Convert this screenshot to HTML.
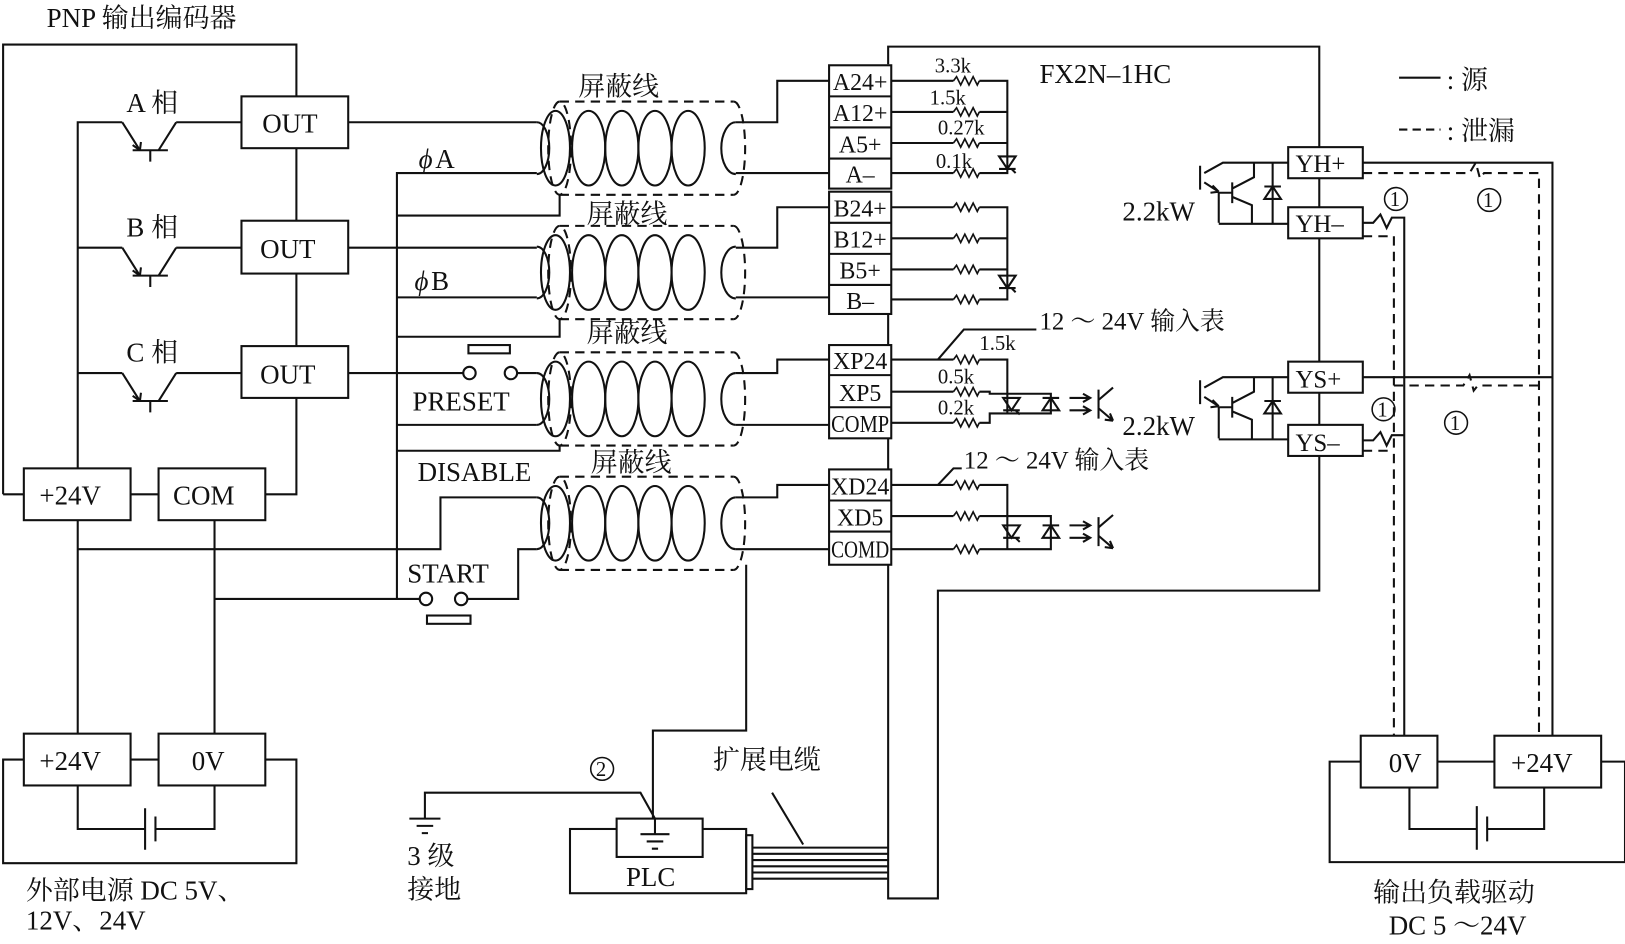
<!DOCTYPE html>
<html><head><meta charset="utf-8"><style>
html,body{margin:0;padding:0;background:#fff;}
svg{display:block}
text{font-family:"Liberation Serif","Noto Serif CJK SC",serif;font-size:26px;fill:#111}
.s{font-size:20px}
.t{font-size:23px;text-anchor:middle}
</style></head><body>
<svg width="1625" height="944" viewBox="0 0 1568 911" preserveAspectRatio="none" xmlns="http://www.w3.org/2000/svg">
<defs>
<g id="cable" fill="none" stroke="#111" stroke-width="2">
  <path d="M540,-45 H708 M540,45 H708" stroke-dasharray="9,6"/>
  <path d="M708,-45 A11,45 0 0 1 708,45" stroke-dasharray="9,6"/>
  <ellipse cx="540" cy="0" rx="11" ry="45" stroke-dasharray="9,6"/>
  <path d="M518,-25 A12,25 0 0 1 518,25"/>
  <ellipse cx="536" cy="0" rx="14" ry="36"/>
  <ellipse cx="568" cy="0" rx="16" ry="36"/>
  <ellipse cx="600" cy="0" rx="16" ry="36"/>
  <ellipse cx="632" cy="0" rx="16" ry="36"/>
  <ellipse cx="664" cy="0" rx="16" ry="36"/>
  <path d="M710,-25 A14,25 0 0 0 710,25"/>
</g>
<g id="tr" fill="none" stroke="#111" stroke-width="2">
  <path d="M0,0 L17,27 M52,0 L35,27 M10,27 H44 M27,27 V38"/>
  <path d="M17,27 l-7,-5 M17,27 l1,-8" />
</g>
<path id="res" d="M0,0 l3,-4 l4,8 l4,-8 l4,8 l4,-8 l4,8 l2,-4" fill="none" stroke="#111" stroke-width="1.6"/>
<g id="dd" fill="none" stroke="#111" stroke-width="2"><path d="M-8,-6 H8 L0,6 Z M-8,6 H8 M4,6 l4,4"/></g>
<g id="du" fill="none" stroke="#111" stroke-width="2"><path d="M-8,6 H8 L0,-6 Z M-8,-6 H8"/></g>
<g id="opto" fill="none" stroke="#111" stroke-width="2">
  <path d="M0,-6 H20 M0,6 H20 M13,-10 L20,-6 L13,-2 M13,2 L20,6 L13,10"/>
  <path d="M28,-14 V14 M28,-4 L42,-16 M28,4 L42,16 M42,16 l-8,-1 M42,16 l-3,-7"/>
</g>
</defs>

<g fill="none" stroke="#111" stroke-width="2">
<path d="M3,477 V43 H286 V93 M286,143 V213 M286,264 V334 M286,384 V477 H256 M126,477 H153 M3,477 H23"/>
<rect x="233" y="93" width="103" height="50"/><rect x="233" y="213" width="103" height="51"/><rect x="233" y="334" width="103" height="50"/>
<rect x="23" y="452" width="103" height="50"/><rect x="153" y="452" width="103" height="50"/>
<path d="M75,452 V118 H118 M170,118 H233 M75,239 H118 M170,239 H233 M75,360 H118 M170,360 H233"/>
</g>
<use href="#tr" x="118" y="118"/><use href="#tr" x="118" y="239"/><use href="#tr" x="118" y="360"/>

<g fill="none" stroke="#111" stroke-width="2">
<path d="M336,118 H518 M383,578 V167 H518 M383,208 H540 V188 M336,239 H518 M383,287 H518 M383,325 H540 V307"/>
<path d="M336,360 H447 M499,360 H518 M383,410 H518 M383,435 H540 V430"/>
<circle cx="453" cy="360" r="6"/><circle cx="493" cy="360" r="6"/><rect x="452" y="333" width="40" height="8"/>
<path d="M75,502 V708 M207,502 V708 M75,530 H425 V480 H518 M207,578 H405 M451,578 H500 V530 H518"/>
<circle cx="411" cy="578" r="6"/><circle cx="445" cy="578" r="6"/><rect x="412" y="594" width="42" height="8"/>
<path d="M710,118 H750 V78 H800 M710,167 H800 M710,239 H750 V200 H800 M710,287 H800 M710,360 H750 V347 H800 M710,410 H800 M710,480 H750 V468 H800 M710,530 H800"/>
<path d="M720,545 V705 H630 V793"/>
</g>
<use href="#cable" y="143"/><use href="#cable" y="263"/><use href="#cable" y="385"/><use href="#cable" y="505"/>

<g fill="none" stroke="#111" stroke-width="2">
<rect x="800" y="63" width="60" height="119"/><path d="M800,93 H860 M800,123 H860 M800,153 H860"/>
<rect x="800" y="185" width="60" height="118"/><path d="M800,215 H860 M800,245 H860 M800,275 H860"/>
<rect x="800" y="333" width="60" height="90"/><path d="M800,362 H860 M800,393 H860"/>
<rect x="800" y="453" width="60" height="92"/><path d="M800,483 H860 M800,513 H860"/>
<path d="M857,62 V45 H1273 V570 H905 V867 H857 V545 M857,303 V333 M857,423 V453"/>
<path d="M860,78 H920 M945,78 H972 V167 H945 M920,167 H860 M860,108 H920 M945,108 H972 M860,138 H920 M945,138 H972"/>
<path d="M860,200 H920 M945,200 H972 V289 H945 M920,289 H860 M860,230 H920 M945,230 H972 M860,260 H920 M945,260 H972"/>
<path d="M860,347 H920 M945,347 H972 V380 M860,378 H920 M945,378 H955 V380 H1014 V399 H972 V380 M860,408 H920 M945,408 H955 V399 H972"/>
<path d="M905,347 L930,318 H1000"/>
<path d="M860,468 H920 M945,468 H972 V530 H945 M920,530 H860 M860,498 H920 M945,498 H972 M972,498 H1014 V530 H972"/>
<path d="M905,468 L920,452 H928"/>
</g>
<use href="#res" x="920" y="78"/><use href="#res" x="920" y="108"/><use href="#res" x="920" y="138"/><use href="#res" x="920" y="167"/>
<use href="#res" x="920" y="200"/><use href="#res" x="920" y="230"/><use href="#res" x="920" y="260"/><use href="#res" x="920" y="289"/>
<use href="#res" x="920" y="347"/><use href="#res" x="920" y="378"/><use href="#res" x="920" y="408"/>
<use href="#res" x="920" y="468"/><use href="#res" x="920" y="498"/><use href="#res" x="920" y="530"/>
<use href="#dd" x="972" y="157"/><use href="#dd" x="972" y="272"/>
<use href="#dd" x="976" y="390"/><use href="#du" x="1014" y="390"/><use href="#opto" x="1032" y="390"/>
<use href="#dd" x="976" y="513"/><use href="#du" x="1014" y="513"/><use href="#opto" x="1032" y="513"/>

<g fill="none" stroke="#111" stroke-width="2">
<rect x="1243" y="142" width="72" height="30" fill="#fff"/><rect x="1243" y="200" width="72" height="30" fill="#fff"/>
<rect x="1243" y="349" width="72" height="30" fill="#fff"/><rect x="1243" y="410" width="72" height="30" fill="#fff"/>
<path d="M1243,157 H1180 L1162,167 M1158,160 V183 M1162,176 L1176,185 M1176,185 L1170,179 M1176,185 L1168,186 M1176,185 V215 M1176,216 H1243 M1189,176 V196 M1189,186 H1176 M1189,182 L1210,171 V157 M1189,190 L1208,198 V216 M1228,157 V216"/>
<path d="M1220,192 H1236 L1228,180 Z M1220,180 H1236"/>
<path d="M1243,364 H1180 L1162,374 M1158,367 V390 M1162,383 L1176,392 M1176,392 L1170,386 M1176,392 L1168,393 M1176,392 V423 M1176,424 H1243 M1189,383 V403 M1189,393 H1176 M1189,389 L1210,378 V364 M1189,397 L1208,405 V424 M1228,364 V424"/>
<path d="M1220,399 H1236 L1228,387 Z M1220,387 H1236"/>
<path d="M1315,157 H1498 V710 M1315,364 H1498"/>
<path d="M1315,215 H1325 L1332,207 L1338,220 L1343,210 H1355 V710 M1315,425 H1325 L1332,417 L1338,430 L1343,420 H1355"/>
<path d="M1315,167 H1418 L1424,157 L1428,172 L1432,167 H1485 V710 M1345,372 H1412 L1418,362 L1422,377 L1426,372 H1485 M1315,228 H1345 V710 M1315,435 H1345" stroke-dasharray="9,6"/>
<path d="M1350,75 H1390"/><path d="M1350,125 H1390" stroke-dasharray="8,5"/>
<rect x="1313" y="710" width="74" height="50"/><rect x="1442" y="710" width="103" height="50"/>
<path d="M1387,735 H1442 M1313,735 H1283 V832 H1568 V735 H1545 M1360,760 V800 H1425 M1490,760 V800 H1435 M1425,778 V820 M1435,788 V812"/>
<rect x="23" y="708" width="103" height="50"/><rect x="153" y="708" width="103" height="50"/>
<path d="M126,733 H153 M23,733 H3 V833 H286 V733 H256 M75,758 V800 H140 M207,758 V800 H150 M140,780 V820 M150,788 V812"/>
<path d="M410,790 V765 H618 L632,790 M395,790 H425 M402,797 H418 M407,804 H413"/>
<rect x="550" y="800" width="170" height="62" fill="#fff"/><rect x="595" y="790" width="83" height="37" fill="#fff"/>
<path d="M632,790 V805 M618,805 H646 M624,812 H640 M629,819 H635"/>
<rect x="720" y="806" width="6" height="52"/>
<path d="M726,818 H857 M726,824 H857 M726,830 H857 M726,836 H857 M726,842 H857 M726,848 H857 M745,765 L775,815"/>
</g>
<g fill="none" stroke="#111" stroke-width="1.5">
<circle cx="1347" cy="192" r="11"/><circle cx="1437" cy="193" r="11"/><circle cx="1335" cy="395" r="11"/><circle cx="1405" cy="408" r="11"/><circle cx="581" cy="742" r="11"/>
</g>

<text x="45" y="26">PNP 输出编码器</text>
<text x="122" y="108">A 相</text><text x="122" y="228">B 相</text><text x="122" y="349">C 相</text>
<text x="253" y="128">OUT</text><text x="251" y="249">OUT</text><text x="251" y="370">OUT</text>
<text x="38" y="487">+24V</text><text x="167" y="487">COM</text>
<text x="38" y="743">+24V</text><text x="185" y="743">0V</text>
<text x="558" y="92">屏蔽线</text><text x="566" y="215">屏蔽线</text><text x="566" y="330">屏蔽线</text><text x="570" y="455">屏蔽线</text>
<text x="404" y="162" font-style="italic">ϕ</text><text x="420" y="162">A</text>
<text x="400" y="280" font-style="italic">ϕ</text><text x="416" y="280">B</text>
<text x="398" y="396">PRESET</text><text x="403" y="464">DISABLE</text><text x="393" y="562">START</text>
<text class="t" x="830" y="87">A24+</text><text class="t" x="830" y="117">A12+</text><text class="t" x="830" y="147">A5+</text><text class="t" x="830" y="176">A–</text>
<text class="t" x="830" y="209">B24+</text><text class="t" x="830" y="239">B12+</text><text class="t" x="830" y="269">B5+</text><text class="t" x="830" y="298">B–</text>
<text class="t" x="830" y="356">XP24</text><text class="t" x="830" y="387">XP5</text><text class="t" x="830" y="417" textLength="56" lengthAdjust="spacingAndGlyphs">COMP</text>
<text class="t" x="830" y="477">XD24</text><text class="t" x="830" y="507">XD5</text><text class="t" x="830" y="538" textLength="56" lengthAdjust="spacingAndGlyphs">COMD</text>
<text x="902" y="70" class="s">3.3k</text><text x="897" y="101" class="s">1.5k</text><text x="905" y="130" class="s">0.27k</text><text x="903" y="162" class="s">0.1k</text>
<text x="945" y="338" class="s">1.5k</text><text x="905" y="370" class="s">0.5k</text><text x="905" y="400" class="s">0.2k</text>
<text x="1003" y="318" style="font-size:24px">12 ～ 24V 输入表</text>
<text x="930" y="452" style="font-size:24px">12 ～ 24V 输入表</text>
<text x="1003" y="80">FX2N–1HC</text>
<text x="1396" y="86">:  源</text><text x="1396" y="135">:  泄漏</text>
<text x="1250" y="166" style="font-size:24px">YH+</text><text x="1250" y="224" style="font-size:24px">YH–</text>
<text x="1250" y="374" style="font-size:24px">YS+</text><text x="1250" y="435" style="font-size:24px">YS–</text>
<text x="1083" y="213">2.2kW</text><text x="1083" y="420">2.2kW</text>
<text x="1341" y="199" class="s">1</text><text x="1431" y="200" class="s">1</text><text x="1329" y="402" class="s">1</text><text x="1399" y="415" class="s">1</text><text x="575" y="749" class="s">2</text>
<text x="1340" y="745">0V</text><text x="1458" y="745">+24V</text>
<text x="25" y="868">外部电源 DC 5V、</text><text x="25" y="897">12V、24V</text>
<text x="393" y="835">3 级</text><text x="393" y="867">接地</text>
<text x="688" y="742">扩展电缆</text><text x="604" y="855">PLC</text>
<text x="1325" y="870">输出负载驱动</text><text x="1340" y="902">DC 5 ～24V</text>
</svg>
</body></html>
